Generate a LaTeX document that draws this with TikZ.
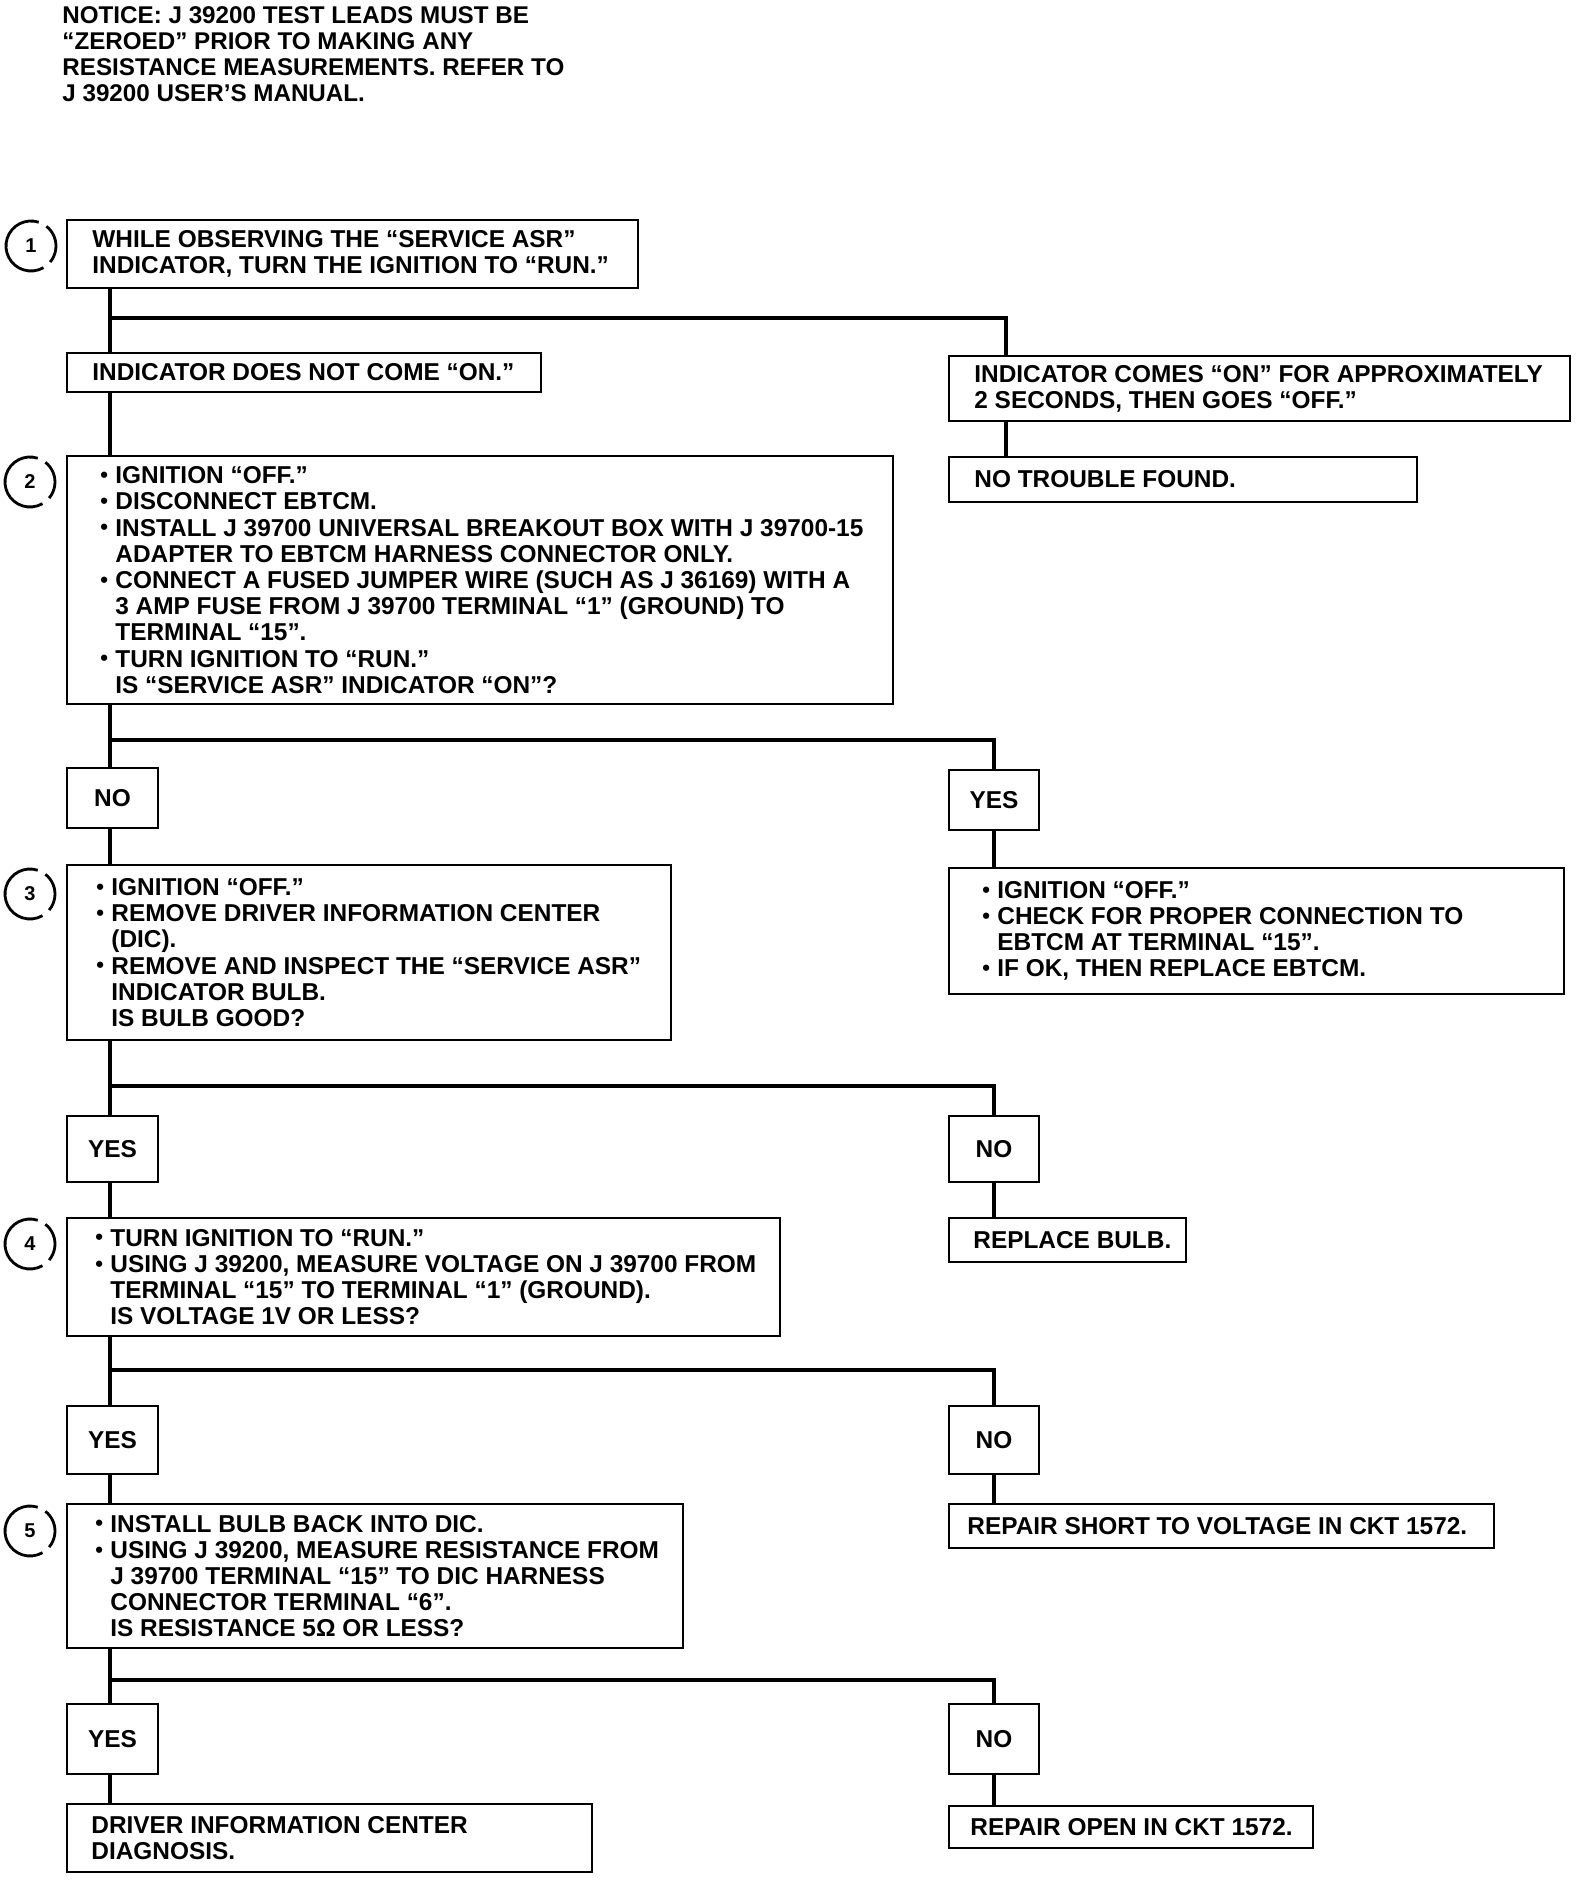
\documentclass[tikz,border=0pt]{standalone}
\usepackage{fontspec}
\setmainfont{Liberation Sans}
\newcommand\mybox[7]{%
  \node[box, minimum width=#4*0.5pt, minimum height=#5*0.5pt, anchor=north west] (#1) at (#2,#3) {};
  \node[txt, anchor=west, xshift=#6*0.5pt] (#1t) at (#1.west) {#7};}
\newcommand\yn[6]{%
  \node[box, minimum width=#4*0.5pt, minimum height=#5*0.5pt, anchor=north west] (#1) at (#2,#3) {#6};}
\newcommand\bul{\makebox[7.5pt][l]{\raisebox{0.6pt}{\fontsize{11}{11}\selectfont •}}}
\newcommand\ind{\hspace*{7.5pt}}
\begin{document}
\begin{tikzpicture}[x=0.5pt, y=-0.5pt,
  box/.style={draw, line width=1.3pt, rectangle, inner sep=0pt, outer sep=0pt, font=\fontsize{12.2}{13.1}\selectfont\bfseries},
  txt/.style={align=left, inner sep=0pt, font=\fontsize{12.2}{13.1}\selectfont\bfseries},
  flow/.style={line width=2.4pt, line join=miter},
  circ/.style={circle, minimum size=25pt, inner sep=0pt, outer sep=0pt, font=\fontsize{10}{10}\selectfont\bfseries},
  carc/.style={line width=1.4pt}]
\useasboundingbox (0,0) rectangle (1584,1882);

\node[txt, anchor=north west, font=\fontsize{12.1}{13}\selectfont\bfseries] (notice) at (62,6)
 {NOTICE: J 39200 TEST LEADS MUST BE\\“ZEROED” PRIOR TO MAKING ANY\\RESISTANCE MEASUREMENTS. REFER TO\\J 39200 USER’S MANUAL.};

\mybox{b1}{67}{220}{571}{68}{25}{WHILE OBSERVING THE “SERVICE ASR”\\INDICATOR, TURN THE IGNITION TO “RUN.”}
\mybox{b1a}{67}{353}{474}{39}{25}{INDICATOR DOES NOT COME “ON.”}
\mybox{b1b}{949}{356}{621}{65}{25}{INDICATOR COMES “ON” FOR APPROXIMATELY\\2 SECONDS, THEN GOES “OFF.”}
\mybox{b1c}{949}{457}{468}{45}{25}{NO TROUBLE FOUND.}
\mybox{b2}{67}{456}{826}{248}{33}{\bul IGNITION “OFF.”\\\bul DISCONNECT EBTCM.\\\bul INSTALL J 39700 UNIVERSAL BREAKOUT BOX WITH J 39700-15\\\ind ADAPTER TO EBTCM HARNESS CONNECTOR ONLY.\\\bul CONNECT A FUSED JUMPER WIRE (SUCH AS J 36169) WITH A\\\ind 3 AMP FUSE FROM J 39700 TERMINAL “1” (GROUND) TO\\\ind TERMINAL “15”.\\\bul TURN IGNITION TO “RUN.”\\\ind IS “SERVICE ASR” INDICATOR “ON”?}
\yn{n2}{67}{768}{91}{60}{NO}
\yn{y2}{949}{770}{90}{60}{YES}
\mybox{b3}{67}{865}{604}{175}{29}{\bul IGNITION “OFF.”\\\bul REMOVE DRIVER INFORMATION CENTER\\\ind (DIC).\\\bul REMOVE AND INSPECT THE “SERVICE ASR”\\\ind INDICATOR BULB.\\\ind IS BULB GOOD?}
\mybox{r2}{949}{868}{615}{126}{33}{\bul IGNITION “OFF.”\\\bul CHECK FOR PROPER CONNECTION TO\\\ind EBTCM AT TERMINAL “15”.\\\bul IF OK, THEN REPLACE EBTCM.}
\yn{y3}{67}{1116}{91}{66}{YES}
\yn{n3}{949}{1116}{90}{66}{NO}
\mybox{r3}{949}{1218}{237}{44}{24}{REPLACE BULB.}
\mybox{b4}{67}{1218}{713}{118}{28}{\bul TURN IGNITION TO “RUN.”\\\bul USING J 39200, MEASURE VOLTAGE ON J 39700 FROM\\\ind TERMINAL “15” TO TERMINAL “1” (GROUND).\\\ind IS VOLTAGE 1V OR LESS?}
\yn{y4}{67}{1406}{91}{68}{YES}
\yn{n4}{949}{1406}{90}{68}{NO}
\mybox{r4}{949}{1504}{545}{44}{18}{REPAIR SHORT TO VOLTAGE IN CKT 1572.}
\mybox{b5}{67}{1504}{616}{144}{28}{\bul INSTALL BULB BACK INTO DIC.\\\bul USING J 39200, MEASURE RESISTANCE FROM\\\ind J 39700 TERMINAL “15” TO DIC HARNESS\\\ind CONNECTOR TERMINAL “6”.\\\ind IS RESISTANCE 5Ω OR LESS?}
\yn{y5}{67}{1704}{91}{70}{YES}
\yn{n5}{949}{1704}{90}{70}{NO}
\mybox{r5a}{67}{1804}{525}{68}{24}{DRIVER INFORMATION CENTER\\DIAGNOSIS.}
\mybox{r5b}{949}{1806}{364}{42}{21}{REPAIR OPEN IN CKT 1572.}

% step circles
\foreach \n/\cx/\cy in {1/31/246, 2/30/482, 3/30/894, 4/30/1244, 5/30/1531}{
  \node[circ] (c\n) at (\cx,\cy) {\n};
  \draw[carc] (c\n.72) arc[start angle=72, end angle=300, radius=12.5pt];
  \draw[carc] (c\n.52) arc[start angle=52, end angle=-40, radius=12.5pt];
}

% connectors
\coordinate (L) at (110,0);
\coordinate (R1) at (1006,0);
\coordinate (j1) at (110,318);
\coordinate (j2) at (110,740);
\coordinate (j3) at (110,1086);
\coordinate (j4) at (110,1370);
\coordinate (j5) at (110,1680);

\draw[flow] (b1.south -| L) -- (b1a.north -| L);
\draw[flow] (j1) -- (j1 -| R1) -- (b1b.north -| R1);
\draw[flow] (b1b.south -| R1) -- (b1c.north -| R1);
\draw[flow] (b1a.south -| L) -- (b2.north -| L);
\draw[flow] (b2.south -| L) -- (n2.north -| L);
\draw[flow] (j2) -| (y2.north);
\draw[flow] (y2.south) -- (r2.north -| y2.south);
\draw[flow] (n2.south -| L) -- (b3.north -| L);
\draw[flow] (b3.south -| L) -- (y3.north -| L);
\draw[flow] (j3) -| (n3.north);
\draw[flow] (n3.south) -- (r3.north -| n3.south);
\draw[flow] (y3.south -| L) -- (b4.north -| L);
\draw[flow] (b4.south -| L) -- (y4.north -| L);
\draw[flow] (j4) -| (n4.north);
\draw[flow] (n4.south) -- (r4.north -| n4.south);
\draw[flow] (y4.south -| L) -- (b5.north -| L);
\draw[flow] (b5.south -| L) -- (y5.north -| L);
\draw[flow] (j5) -| (n5.north);
\draw[flow] (n5.south) -- (r5b.north -| n5.south);
\draw[flow] (y5.south -| L) -- (r5a.north -| L);
\end{tikzpicture}
\end{document}
